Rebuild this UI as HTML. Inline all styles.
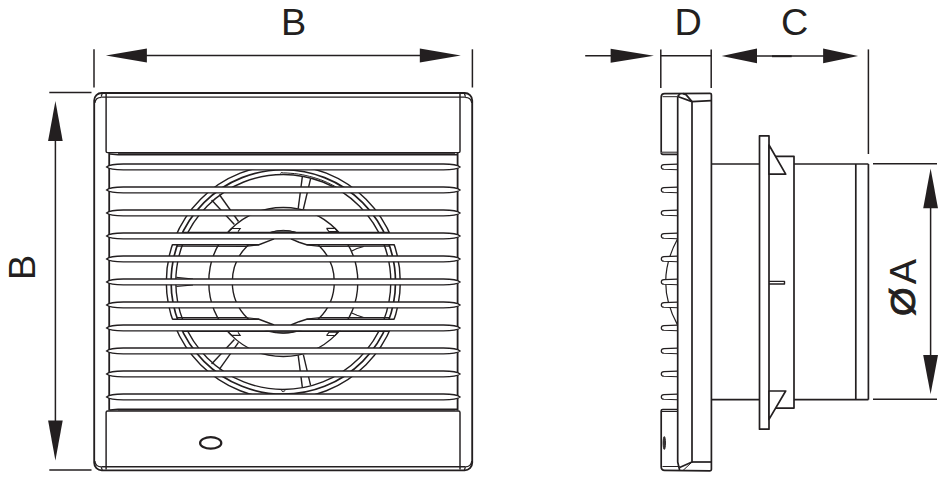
<!DOCTYPE html>
<html lang="en"><head><meta charset="utf-8"><title>Fan dimensions</title>
<style>
html,body{margin:0;padding:0;background:#fff;}
body{width:947px;height:487px;overflow:hidden;}
svg{display:block;}
</style></head><body>
<svg width="947" height="487" viewBox="0 0 947 487">
<defs><clipPath id="grille"><rect x="109.2" y="155" width="348.4" height="254"/></clipPath></defs>
<rect width="947" height="487" fill="#fff"/>

<!-- outer body -->
<rect x="94.2" y="93" width="378.0" height="377.3" rx="7.5" ry="7.5" fill="#fff" stroke="#231f20" stroke-width="1.85"/>
<line x1="101.5" y1="97.2" x2="465.1" y2="97.2" stroke="#231f20" stroke-width="1.3"/>
<line x1="101.5" y1="466.8" x2="465.1" y2="466.8" stroke="#231f20" stroke-width="1.4"/>
<path d="M101.5,97.3 Q95.4,97.3 94.9,103 M102.3,93.3 L101.1,96.8" fill="none" stroke="#231f20" stroke-width="1.2"/>
<path d="M465.1,97.3 Q471.2,97.3 471.7,103 M464.3,93.3 L465.5,96.8" fill="none" stroke="#231f20" stroke-width="1.2"/>
<path d="M101.5,466.8 Q95.4,466.8 94.9,461 M102.3,470 L101.1,467" fill="none" stroke="#231f20" stroke-width="1.2"/>
<path d="M465.1,466.8 Q471.2,466.8 471.7,461 M464.3,470 L465.5,467" fill="none" stroke="#231f20" stroke-width="1.2"/>
<!-- top panel -->
<path d="M106.1,94 L106.1,151.2 Q106.1,152.6 107.6,152.6 L458.5,152.6 Q460,152.6 460,151.2 L460,94" fill="none" stroke="#231f20" stroke-width="1.45"/>
<path d="M110,153.9 L118,154.75 L457.6,154.75" fill="none" stroke="#231f20" stroke-width="1.5"/>
<line x1="118" y1="153.7" x2="455" y2="153.7" stroke="#231f20" stroke-width="1.2" stroke-opacity="0.8"/>
<!-- bottom panel -->
<path d="M106.1,469.5 L106.1,412.4 Q106.1,411 107.6,411 L458.5,411 Q460,411 460,412.4 L460,469.5" fill="none" stroke="#231f20" stroke-width="1.45"/>
<path d="M110,410 L118,409.2 L457.6,409.2" fill="none" stroke="#231f20" stroke-width="1.4"/>
<line x1="118" y1="410.1" x2="455" y2="410.1" stroke="#231f20" stroke-width="1" stroke-opacity="0.75"/>
<!-- grille side edges -->
<line x1="109.2" y1="153" x2="109.2" y2="410.5" stroke="#231f20" stroke-width="1.8"/>
<line x1="457.6" y1="153" x2="457.6" y2="410.5" stroke="#231f20" stroke-width="1.8"/>
<g clip-path="url(#grille)">
<circle cx="283.3" cy="281.95" r="117" fill="none" stroke="#231f20" stroke-width="1.45"/>
<circle cx="283.3" cy="281.95" r="112.2" fill="none" stroke="#231f20" stroke-width="1.7"/>
<circle cx="283.3" cy="281.95" r="107.5" fill="none" stroke="#231f20" stroke-width="1.4"/>
<circle cx="283.3" cy="281.95" r="74.5" fill="none" stroke="#231f20" stroke-width="1.4"/>
<circle cx="283.3" cy="281.95" r="51" fill="none" stroke="#231f20" stroke-width="1.4"/>
<rect x="160" y="236" width="98" height="8.1" fill="#fff"/>
<rect x="308" y="236" width="98" height="8.1" fill="#fff"/>
<rect x="160" y="319.79999999999995" width="98" height="8.1" fill="#fff"/>
<rect x="308" y="319.79999999999995" width="98" height="8.1" fill="#fff"/>
<polyline points="172.7,244.7 259.0,244.7 274.1,238.9" fill="none" stroke="#231f20" stroke-width="1.45"/>
<polyline points="176.5,246.2 245.6,246.4 259.0,244.8" fill="none" stroke="#231f20" stroke-width="1.2"/>
<polyline points="290.9,238.9 299.0,242.2 306.6,244.7 394.0,244.7" fill="none" stroke="#231f20" stroke-width="1.45"/>
<polyline points="306.6,244.8 320.4,246.4 389.8,246.2" fill="none" stroke="#231f20" stroke-width="1.2"/>
<polyline points="351.8,251.0 357.0,248.6 363.7,246.5" fill="none" stroke="#231f20" stroke-width="1.1"/>
<polyline points="182.0,232.4 389.5,232.4" fill="none" stroke="#231f20" stroke-width="1.2"/>
<polyline points="211.6,200.0 234.4,224.4" fill="none" stroke="#231f20" stroke-width="1.4"/>
<polyline points="219.3,194.5 238.5,221.5" fill="none" stroke="#231f20" stroke-width="1.4"/>
<polyline points="302.4,176.2 298.2,208.6" fill="none" stroke="#231f20" stroke-width="1.4"/>
<polyline points="310.6,178.6 303.4,209.0" fill="none" stroke="#231f20" stroke-width="1.4"/>
<polyline points="280.5,173.5 281.1,172.6 283.3,172.9 287.1,173.0 290.9,173.3 294.7,173.6 298.5,174.1 302.2,174.7 305.9,175.5 309.6,176.4 313.3,177.4 316.9,178.5 320.5,179.7 324.0,181.1 327.5,182.6 330.9,184.3 334.3,186.0 337.6,187.9" fill="none" stroke="#231f20" stroke-width="1"/>
<polyline points="228.7,231.6 232.0,228.5 240.2,228.5 238.0,231.6" fill="none" stroke="#231f20" stroke-width="1.1"/>
<polyline points="326.5,228.4 335.0,228.4 337.5,231.6 329.0,231.6 326.5,228.4" fill="none" stroke="#231f20" stroke-width="1.1"/>
<polyline points="176.4,277.4 193.0,279.0" fill="none" stroke="#231f20" stroke-width="1.1"/>
<polyline points="172.7,319.2 259.0,319.2 274.1,325.0" fill="none" stroke="#231f20" stroke-width="1.45"/>
<polyline points="176.5,317.7 245.6,317.5 259.0,319.1" fill="none" stroke="#231f20" stroke-width="1.2"/>
<polyline points="290.9,325.0 299.0,321.7 306.6,319.2 394.0,319.2" fill="none" stroke="#231f20" stroke-width="1.45"/>
<polyline points="306.6,319.1 320.4,317.5 389.8,317.7" fill="none" stroke="#231f20" stroke-width="1.2"/>
<polyline points="351.8,312.9 357.0,315.3 363.7,317.4" fill="none" stroke="#231f20" stroke-width="1.1"/>
<polyline points="182.0,331.5 389.5,331.5" fill="none" stroke="#231f20" stroke-width="1.2"/>
<polyline points="211.6,363.9 234.4,339.5" fill="none" stroke="#231f20" stroke-width="1.4"/>
<polyline points="219.3,369.4 238.5,342.4" fill="none" stroke="#231f20" stroke-width="1.4"/>
<polyline points="302.4,387.7 298.2,355.3" fill="none" stroke="#231f20" stroke-width="1.4"/>
<polyline points="310.6,385.3 303.4,354.9" fill="none" stroke="#231f20" stroke-width="1.4"/>
<ellipse cx="283.2" cy="390.5" rx="1.6" ry="1.1" fill="none" stroke="#231f20" stroke-width="0.9"/>
<polyline points="228.7,332.3 232.0,335.4 240.2,335.4 238.0,332.3" fill="none" stroke="#231f20" stroke-width="1.1"/>
<polyline points="326.5,335.5 335.0,335.5 337.5,332.3 329.0,332.3 326.5,335.5" fill="none" stroke="#231f20" stroke-width="1.1"/>
<polyline points="176.4,286.5 193.0,284.9" fill="none" stroke="#231f20" stroke-width="1.1"/>
<path d="M270,232.6 Q283.3,228 296.6,232.6 Z" fill="#555" stroke="#231f20" stroke-width="1"/>
<path d="M270,330.8 Q283.3,335.4 296.6,330.8 Z" fill="#555" stroke="#231f20" stroke-width="1"/>
</g>
<path d="M106.6,166.95 C108.6,165.25 112.6,164.04999999999998 123.3,164.04999999999998 L443.4,164.04999999999998 C454.0,164.04999999999998 458.0,165.25 460.0,166.95 C458.0,168.64999999999998 454.0,169.85 443.4,169.85 L123.3,169.85 C112.6,169.85 108.6,168.64999999999998 106.6,166.95 Z" fill="#fff" stroke="#231f20" stroke-width="1.4" stroke-linejoin="miter"/>
<path d="M106.6,189.95 C108.6,188.25 112.6,187.04999999999998 123.3,187.04999999999998 L443.4,187.04999999999998 C454.0,187.04999999999998 458.0,188.25 460.0,189.95 C458.0,191.64999999999998 454.0,192.85 443.4,192.85 L123.3,192.85 C112.6,192.85 108.6,191.64999999999998 106.6,189.95 Z" fill="#fff" stroke="#231f20" stroke-width="1.4" stroke-linejoin="miter"/>
<path d="M106.6,212.95 C108.6,211.25 112.6,210.04999999999998 123.3,210.04999999999998 L443.4,210.04999999999998 C454.0,210.04999999999998 458.0,211.25 460.0,212.95 C458.0,214.64999999999998 454.0,215.85 443.4,215.85 L123.3,215.85 C112.6,215.85 108.6,214.64999999999998 106.6,212.95 Z" fill="#fff" stroke="#231f20" stroke-width="1.4" stroke-linejoin="miter"/>
<path d="M106.6,235.95 C108.6,234.25 112.6,233.04999999999998 123.3,233.04999999999998 L443.4,233.04999999999998 C454.0,233.04999999999998 458.0,234.25 460.0,235.95 C458.0,237.64999999999998 454.0,238.85 443.4,238.85 L123.3,238.85 C112.6,238.85 108.6,237.64999999999998 106.6,235.95 Z" fill="#fff" stroke="#231f20" stroke-width="1.4" stroke-linejoin="miter"/>
<path d="M106.6,258.95 C108.6,257.25 112.6,256.05 123.3,256.05 L443.4,256.05 C454.0,256.05 458.0,257.25 460.0,258.95 C458.0,260.65 454.0,261.84999999999997 443.4,261.84999999999997 L123.3,261.84999999999997 C112.6,261.84999999999997 108.6,260.65 106.6,258.95 Z" fill="#fff" stroke="#231f20" stroke-width="1.4" stroke-linejoin="miter"/>
<path d="M106.6,281.95 C108.6,280.25 112.6,279.05 123.3,279.05 L443.4,279.05 C454.0,279.05 458.0,280.25 460.0,281.95 C458.0,283.65 454.0,284.84999999999997 443.4,284.84999999999997 L123.3,284.84999999999997 C112.6,284.84999999999997 108.6,283.65 106.6,281.95 Z" fill="#fff" stroke="#231f20" stroke-width="1.4" stroke-linejoin="miter"/>
<path d="M106.6,304.95 C108.6,303.25 112.6,302.05 123.3,302.05 L443.4,302.05 C454.0,302.05 458.0,303.25 460.0,304.95 C458.0,306.65 454.0,307.84999999999997 443.4,307.84999999999997 L123.3,307.84999999999997 C112.6,307.84999999999997 108.6,306.65 106.6,304.95 Z" fill="#fff" stroke="#231f20" stroke-width="1.4" stroke-linejoin="miter"/>
<path d="M106.6,327.95 C108.6,326.25 112.6,325.05 123.3,325.05 L443.4,325.05 C454.0,325.05 458.0,326.25 460.0,327.95 C458.0,329.65 454.0,330.84999999999997 443.4,330.84999999999997 L123.3,330.84999999999997 C112.6,330.84999999999997 108.6,329.65 106.6,327.95 Z" fill="#fff" stroke="#231f20" stroke-width="1.4" stroke-linejoin="miter"/>
<path d="M106.6,350.95 C108.6,349.25 112.6,348.05 123.3,348.05 L443.4,348.05 C454.0,348.05 458.0,349.25 460.0,350.95 C458.0,352.65 454.0,353.84999999999997 443.4,353.84999999999997 L123.3,353.84999999999997 C112.6,353.84999999999997 108.6,352.65 106.6,350.95 Z" fill="#fff" stroke="#231f20" stroke-width="1.4" stroke-linejoin="miter"/>
<path d="M106.6,373.95 C108.6,372.25 112.6,371.05 123.3,371.05 L443.4,371.05 C454.0,371.05 458.0,372.25 460.0,373.95 C458.0,375.65 454.0,376.84999999999997 443.4,376.84999999999997 L123.3,376.84999999999997 C112.6,376.84999999999997 108.6,375.65 106.6,373.95 Z" fill="#fff" stroke="#231f20" stroke-width="1.4" stroke-linejoin="miter"/>
<path d="M106.6,396.95 C108.6,395.25 112.6,394.05 123.3,394.05 L443.4,394.05 C454.0,394.05 458.0,395.25 460.0,396.95 C458.0,398.65 454.0,399.84999999999997 443.4,399.84999999999997 L123.3,399.84999999999997 C112.6,399.84999999999997 108.6,398.65 106.6,396.95 Z" fill="#fff" stroke="#231f20" stroke-width="1.4" stroke-linejoin="miter"/>
<!-- LED -->
<ellipse cx="210.7" cy="442.95" rx="10.6" ry="5.75" fill="#fff" stroke="#231f20" stroke-width="2.2"/>


<g fill="none" stroke="#231f20" stroke-width="1.7" stroke-linejoin="round">
<!-- fan curve behind fins -->
<path d="M677.4,239.3 Q654,282 677.4,324.6" stroke-width="1.2"/>
<path d="M677.7,164.14999999999998 L664,164.64999999999998 Q661.3,164.85 661.3,166.95 Q661.3,169.04999999999998 664,169.25 L677.7,169.75" fill="#fff" stroke="#231f20" stroke-width="1.2"/>
<path d="M677.7,187.14999999999998 L664,187.64999999999998 Q661.3,187.85 661.3,189.95 Q661.3,192.04999999999998 664,192.25 L677.7,192.75" fill="#fff" stroke="#231f20" stroke-width="1.2"/>
<path d="M677.7,210.14999999999998 L664,210.64999999999998 Q661.3,210.85 661.3,212.95 Q661.3,215.04999999999998 664,215.25 L677.7,215.75" fill="#fff" stroke="#231f20" stroke-width="1.2"/>
<path d="M677.7,233.14999999999998 L664,233.64999999999998 Q661.3,233.85 661.3,235.95 Q661.3,238.04999999999998 664,238.25 L677.7,238.75" fill="#fff" stroke="#231f20" stroke-width="1.2"/>
<path d="M677.7,256.15 L664,256.65 Q661.3,256.84999999999997 661.3,258.95 Q661.3,261.05 664,261.25 L677.7,261.75" fill="#fff" stroke="#231f20" stroke-width="1.2"/>
<path d="M677.7,279.15 L664,279.65 Q661.3,279.84999999999997 661.3,281.95 Q661.3,284.05 664,284.25 L677.7,284.75" fill="#fff" stroke="#231f20" stroke-width="1.2"/>
<path d="M677.7,302.15 L664,302.65 Q661.3,302.84999999999997 661.3,304.95 Q661.3,307.05 664,307.25 L677.7,307.75" fill="#fff" stroke="#231f20" stroke-width="1.2"/>
<path d="M677.7,325.15 L664,325.65 Q661.3,325.84999999999997 661.3,327.95 Q661.3,330.05 664,330.25 L677.7,330.75" fill="#fff" stroke="#231f20" stroke-width="1.2"/>
<path d="M677.7,348.15 L664,348.65 Q661.3,348.84999999999997 661.3,350.95 Q661.3,353.05 664,353.25 L677.7,353.75" fill="#fff" stroke="#231f20" stroke-width="1.2"/>
<path d="M677.7,371.15 L664,371.65 Q661.3,371.84999999999997 661.3,373.95 Q661.3,376.05 664,376.25 L677.7,376.75" fill="#fff" stroke="#231f20" stroke-width="1.2"/>
<path d="M677.7,394.15 L664,394.65 Q661.3,394.84999999999997 661.3,396.95 Q661.3,399.05 664,399.25 L677.7,399.75" fill="#fff" stroke="#231f20" stroke-width="1.2"/>
<!-- body -->
<path d="M661.2,152.5 L661.2,97 Q661.2,93.6 664.6,93.6 L710,93.4 Q711.4,93.4 711.4,94.8 L711.4,469.5 Q711.4,470.8 710,470.8 L664.6,470.3 Q661.2,470.3 661.2,467 L661.2,411 Q661.2,409.5 662.7,409.5 L677.7,409.5"/>
<path d="M661.2,152.5 Q661.2,154.4 663,154.4 L677.7,154.4"/>
<line x1="662" y1="152.2" x2="677.7" y2="152.2" stroke-width="1"/>
<line x1="662" y1="411.5" x2="677.7" y2="411.5" stroke-width="1"/>
<line x1="662.5" y1="96.7" x2="677.7" y2="96.7" stroke-width="1"/>
<line x1="662.5" y1="466.5" x2="679.6" y2="466.5" stroke-width="1"/>
<path d="M677.7,96.5 L677.7,462 L679.6,470"/>
<path d="M677.7,96.5 L680,93.6"/>
<path d="M677.7,96.5 L692,101.6 L692,462 L679.6,467.5"/>
<path d="M683,93.6 L686,94.6 L692,101.6 L711.4,100.6"/>
<path d="M692,462 L711.4,462"/>
<path d="M683,470.5 L692,462" stroke-width="1"/>
<ellipse cx="664.3" cy="443" rx="1.2" ry="6.4" stroke-width="0.9" fill="#3a3637"/>
<!-- duct -->
<line x1="711.4" y1="164" x2="759.5" y2="164"/>
<line x1="711.4" y1="399.7" x2="759.5" y2="399.7"/>
<rect x="759.5" y="135.8" width="9.5" height="293.4" fill="#fff"/>
<path d="M769,156.3 L794,156.3 L794,408.1 L769,408.1"/>
<path d="M769,145 L785.7,174.2 L769,174.2 Z" fill="#fff"/>
<path d="M769,419.4 L785.7,391 L769,391 Z" fill="#fff"/>
<line x1="794" y1="164" x2="868.4" y2="164"/>
<line x1="794" y1="399.7" x2="868.4" y2="399.7"/>
<line x1="855.8" y1="164" x2="855.8" y2="399.7"/>
<line x1="868.4" y1="164" x2="868.4" y2="399.7"/>
<path d="M769,281.4 L784.5,281.4 L784.5,284 L769,284"  stroke-width="1.4"/>
</g>


<g stroke="#231f20" stroke-width="1.5" fill="none">
<line x1="94" y1="49.3" x2="94" y2="87.5"/>
<line x1="472.4" y1="49.3" x2="472.4" y2="87.5"/>
<line x1="120" y1="55.6" x2="440" y2="55.6"/>
<line x1="49.3" y1="92.5" x2="91.5" y2="92.5"/>
<line x1="49.3" y1="470" x2="91.5" y2="470"/>
<line x1="55.4" y1="120" x2="55.4" y2="440"/>
<!-- D -->
<line x1="585.2" y1="55.8" x2="630" y2="55.8"/>
<line x1="660.8" y1="49.4" x2="660.8" y2="88"/>
<line x1="711.2" y1="49.4" x2="711.2" y2="88"/>
<line x1="660.8" y1="55.8" x2="711.2" y2="55.8"/>
<!-- C -->
<line x1="740" y1="55.9" x2="840" y2="55.9"/>
<line x1="772" y1="56.2" x2="791.7" y2="56.2" stroke-width="2"/>
<line x1="868.4" y1="49.4" x2="868.4" y2="154"/>
<!-- A -->
<line x1="873" y1="163.8" x2="937" y2="163.8"/>
<line x1="873" y1="399.35" x2="937" y2="399.35"/>
<line x1="930.6" y1="190" x2="930.6" y2="370"/>
</g>
<polygon points="105.9,55.6 146.9,48.6 146.9,62.6" fill="#231f20"/><polygon points="460.8,55.6 419.8,48.6 419.8,62.6" fill="#231f20"/>
<polygon points="55.4,101 48.1,141 62.699999999999996,141" fill="#231f20"/><polygon points="55.4,460.6 48.1,420.6 62.699999999999996,420.6" fill="#231f20"/>
<polygon points="653.9,55.8 610.6,48.8 610.6,62.8" fill="#231f20"/>
<polygon points="721.7,55.9 757.0,48.6 757.0,63.199999999999996" fill="#231f20"/><polygon points="858.1,55.9 823.1,48.6 823.1,63.199999999999996" fill="#231f20"/>
<polygon points="930.6,168.4 923.2,208.2 938.0,208.2" fill="#231f20"/><polygon points="930.6,394.3 923.2,354.90000000000003 938.0,354.90000000000003" fill="#231f20"/>


<g font-family="'Liberation Sans', Arial, sans-serif" font-size="37.8" fill="#231f20" text-anchor="middle">
<text x="293.6" y="34.9">B</text>
<text x="688.2" y="35.4">D</text>
<text x="794.6" y="35.3">C</text>
<text transform="translate(34.8,267.3) rotate(-90)" x="0" y="0">B</text>
<text transform="translate(916.3,315.9) rotate(-90)" text-anchor="start" x="0" y="0"><tspan font-size="34.6" textLength="28.55" lengthAdjust="spacingAndGlyphs" dy="-1.6" stroke="#231f20" stroke-width="0.9">Ø</tspan><tspan dx="3.2" dy="1.6">A</tspan></text>
</g>

</svg>
</body></html>
